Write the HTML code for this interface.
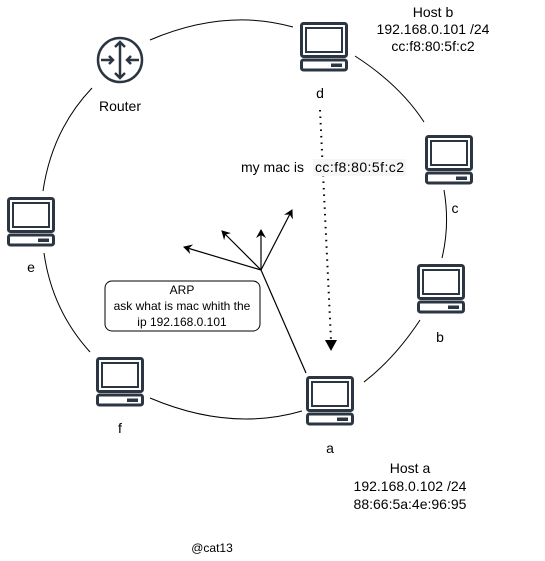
<!DOCTYPE html>
<html><head><meta charset="utf-8"><style>
html,body{margin:0;padding:0;background:#fff;}
svg{display:block;}
text{font-family:"Liberation Sans",sans-serif;fill:#000;}
</style></head><body>
<svg width="545" height="561" viewBox="0 0 545 561" xmlns="http://www.w3.org/2000/svg">
<defs>
<g id="pc">
<rect x="1.5" y="1.5" width="45" height="33" rx="2" fill="none" stroke="#2b3642" stroke-width="3"/>
<rect x="6" y="6" width="36" height="24" fill="none" stroke="#2b3642" stroke-width="2"/>
<rect x="1.5" y="38" width="45" height="10" rx="2" fill="none" stroke="#2b3642" stroke-width="3"/>
<rect x="31" y="41.5" width="11" height="3.5" fill="#2b3642"/>
</g>
<marker id="ah" markerWidth="10" markerHeight="10" refX="8" refY="5" orient="auto" markerUnits="userSpaceOnUse">
<path d="M0,0 L9,5 L0,10 L3,5 Z" fill="#000"/>
</marker>
</defs>
<g fill="none" stroke="#000" stroke-width="1">
<path d="M150,40 Q225,8 293,27"/>
<path d="M355,56 Q400,85 424,122"/>
<path d="M444,190 Q450,225 442,258"/>
<path d="M420,320 Q395,358 364,382"/>
<path d="M302,411 Q230,432 150,398"/>
<path d="M90,352 Q52,310 44,253"/>
<path d="M43,191 Q52,130 92,88"/>
</g>
<use href="#pc" x="300" y="22"/>
<use href="#pc" x="425" y="135"/>
<use href="#pc" x="7" y="197"/>
<use href="#pc" x="417" y="264"/>
<use href="#pc" x="96" y="357"/>
<use href="#pc" x="306" y="376"/>
<g stroke="#2b3642" stroke-width="2.5" fill="none">
<circle cx="120" cy="60" r="22"/>
<path d="M120,42 V78 M115,47 L120,42 L125,47 M115,73 L120,78 L125,73"/>
<path d="M101,60 H113 M109,56 L113,60 L109,64 M139,60 H127 M131,56 L127,60 L131,64"/>
</g>
<text x="120" y="111" font-size="14" text-anchor="middle" fill="#2b3642">Router</text>
<text x="320" y="98" font-size="14" text-anchor="middle">d</text>
<text x="455" y="213" font-size="14" text-anchor="middle">c</text>
<text x="31" y="272" font-size="14" text-anchor="middle">e</text>
<text x="440" y="342" font-size="14" text-anchor="middle">b</text>
<text x="120" y="433" font-size="14" text-anchor="middle">f</text>
<text x="330" y="453" font-size="14" text-anchor="middle">a</text>
<g font-size="14" text-anchor="middle">
<text x="433" y="17">Host b</text>
<text x="433" y="34">192.168.0.101 /24</text>
<text x="433" y="51">cc:f8:80:5f:c2</text>
<text x="410" y="473">Host a</text>
<text x="410" y="491">192.168.0.102 /24</text>
<text x="410" y="509">88:66:5a:4e:96:95</text>
</g>
<text x="212" y="552" font-size="12" text-anchor="middle">@cat13</text>
<path d="M320,110 L331,340" stroke="#000" stroke-width="2" stroke-dasharray="1.5,5" fill="none"/>
<path d="M325,340 L337,340 L331,351 Z" fill="#000"/>
<rect x="313" y="159" width="93" height="17" fill="#f6f6f6"/>
<text x="241" y="172" font-size="14">my mac is</text>
<text x="315" y="172" font-size="14" textLength="89">cc:f8:80:5f:c2</text>
<g stroke="#000" stroke-width="1.2" fill="none">
<path d="M261,270 L306,373"/>
<path d="M261,270 L184,247" marker-end="url(#ah)"/>
<path d="M261,270 L222,231" marker-end="url(#ah)"/>
<path d="M261,270 L261,230" marker-end="url(#ah)"/>
<path d="M261,270 L292,210" marker-end="url(#ah)"/>
</g>
<rect x="105" y="281" width="155" height="50" rx="7" fill="#fff" stroke="#000" stroke-width="1"/>
<g font-size="12" text-anchor="middle">
<text x="182" y="294">ARP</text>
<text x="182" y="310">ask what is mac whith the</text>
<text x="182" y="326">ip 192.168.0.101</text>
</g>
</svg>
</body></html>
